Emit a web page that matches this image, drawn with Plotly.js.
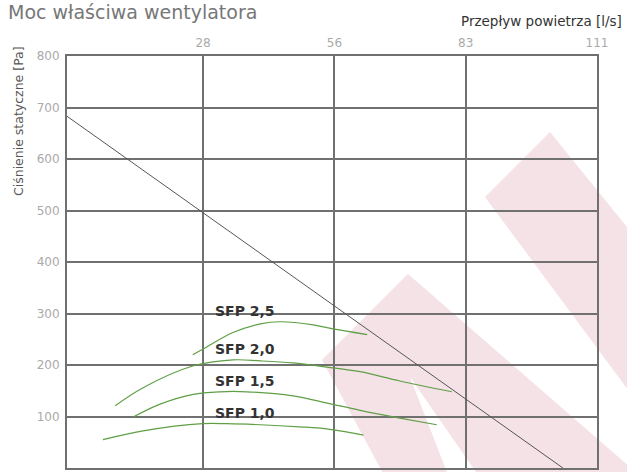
<!DOCTYPE html>
<html><head><meta charset="utf-8">
<script src="https://cdn.plot.ly/plotly-3.0.1.min.js"></script>
<style>html,body{margin:0;padding:0;background:#fff}</style>
</head><body><div id="chart" style="width:627px;height:472px"></div>
<script>
// ---- data ----
const systemFlow = [-1.0, 103.9];
const systemPressure = [683, 0];

const sfpLabels = ['SFP 1,0', 'SFP 1,5', 'SFP 2,0', 'SFP 2,5'];
const sfp10Flow = [6.6, 15.1, 27.7, 32.8, 39.9, 48.2, 53.9, 61.7];
const sfp10Pressure = [55, 72, 86, 86, 84, 80, 76, 64];
const sfp15Flow = [13.0, 18.7, 25.7, 31.4, 37.0, 46.8, 54.0, 61.0, 69.4, 77.2];
const sfp15Pressure = [99, 124, 143, 148, 148, 140, 126, 112, 97, 84];
const sfp20Flow = [9.2, 15.1, 25.6, 34.1, 39.9, 46.8, 54.0, 61.0, 69.4, 80.4];
const sfp20Pressure = [121, 156, 198, 210, 208, 204, 196, 187, 169, 148];
const sfp25Flow = [25.6, 27.8, 34.1, 39.9, 44.1, 51.1, 55.3, 62.5];
const sfp25Pressure = [220, 231, 263, 280, 284, 278, 270, 259];

const xTickVals = [27.78, 55.56, 83.33, 111.11];
const xTickText = ['28', '56', '83', '111'];
const yTickVals = [100, 200, 300, 400, 500, 600, 700, 800];
const yTickText = ['100', '200', '300', '400', '500', '600', '700', '800'];

// ---- chart ----
const FONT = 'DejaVu Sans, Verdana, sans-serif';
const GREEN = '#5f9f45';
const curves = [
  [sfp10Flow, sfp10Pressure],
  [sfp15Flow, sfp15Pressure],
  [sfp20Flow, sfp20Pressure],
  [sfp25Flow, sfp25Pressure]
];

const traces = [{
  x: systemFlow, y: systemPressure, mode: 'lines', type: 'scatter',
  line: {color: '#555555', width: 1}, hoverinfo: 'skip'
}];
curves.forEach(c => traces.push({
  x: c[0], y: c[1], mode: 'lines', type: 'scatter',
  line: {color: GREEN, width: 1.2, shape: 'spline', smoothing: 1}, hoverinfo: 'skip'
}));

const annotations = sfpLabels.map((t, i) => ({
  text: '<b>' + t + '</b>', x: 29.9, xanchor: 'left',
  y: Math.max(...curves[i][1]), yanchor: 'middle', yshift: 11,
  xref: 'x', yref: 'y', showarrow: false,
  font: {family: FONT, size: 14, color: '#333333'}
}));
annotations.push(
  {text: 'Moc właściwa wentylatora', xref: 'paper', yref: 'paper',
   x: (6 - 67) / 530, y: (468 - 12) / 412, xanchor: 'left', yanchor: 'middle',
   showarrow: false, font: {family: FONT, size: 19, color: '#777777'}},
  {text: 'Przepływ powietrza [l/s]', xref: 'paper', yref: 'paper',
   x: (624 - 67) / 530, y: (468 - 21) / 412, xanchor: 'right', yanchor: 'middle',
   showarrow: false, font: {family: FONT, size: 13.5, color: '#333333'}},
  {text: 'Ciśnienie statyczne [Pa]', xref: 'paper', yref: 'paper', textangle: -90,
   x: (18 - 67) / 530, y: (468 - 121) / 412, xanchor: 'center', yanchor: 'middle',
   showarrow: false, font: {family: FONT, size: 12.5, color: '#555555'}}
);

// watermark (decorative) in pixel coords -> paper
function P(px, py) { return ((px - 67) / 530).toFixed(4) + ',' + ((468 - py) / 412).toFixed(4); }
function path(pts) { return 'M' + pts.map(p => P(p[0], p[1])).join(' L') + ' Z'; }
const wmColor = '#f4e2e7';
const shapes = [
  {type: 'path', xref: 'paper', yref: 'paper', layer: 'below', fillcolor: wmColor, line: {width: 0},
   path: path([[408, 274], [639, 475], [478, 475], [410, 377], [448, 475], [384, 475], [322, 360]])},
  {type: 'path', xref: 'paper', yref: 'paper', layer: 'below', fillcolor: wmColor, line: {width: 0},
   path: path([[550, 132], [485, 197], [640, 406], [640, 243]])}
];

const axisCommon = {
  showline: true, mirror: true, linecolor: '#707070', linewidth: 2,
  showgrid: true, gridcolor: '#707070', gridwidth: 2, zeroline: false,
  ticks: '', tickfont: {family: FONT, size: 12, color: '#aaaaaa'}, fixedrange: true
};

const layout = {
  width: 627, height: 472,
  margin: {l: 67, r: 30, t: 56, b: 4, pad: 0},
  paper_bgcolor: '#ffffff', plot_bgcolor: 'rgba(0,0,0,0)',
  showlegend: false,
  xaxis: Object.assign({}, axisCommon, {
    range: [-1.0, 111.11], side: 'top', tickmode: 'array',
    tickvals: xTickVals, ticktext: xTickText, ticklabelstandoff: 2
  }),
  yaxis: Object.assign({}, axisCommon, {
    range: [0, 800], tickmode: 'array', tickvals: yTickVals, ticktext: yTickText,
    ticklabelstandoff: 3
  }),
  annotations: annotations,
  shapes: shapes
};

Plotly.newPlot('chart', traces, layout, {displayModeBar: false, staticPlot: true});
</script>
</body></html>
